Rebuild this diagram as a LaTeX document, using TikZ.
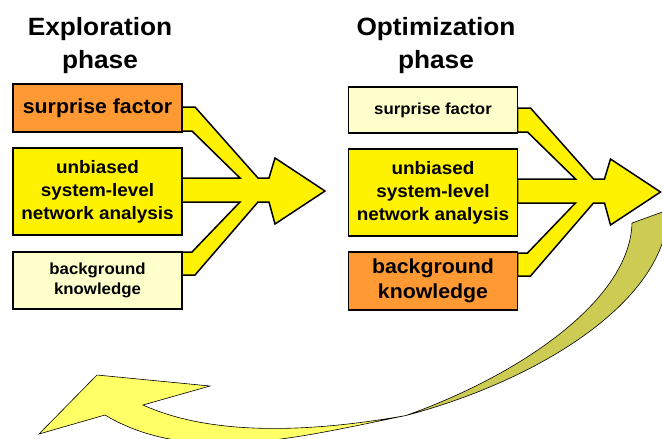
\documentclass[tikz,border=0pt]{standalone}
\usepackage{fontspec}
\newfontfamily\labelfont[FakeStretch=1.05]{Liberation Sans}
\usepackage{tikz}
\definecolor{boxorange}{RGB}{255,153,51}
\definecolor{paleyellow}{RGB}{255,255,204}
\definecolor{ribbonolive}{RGB}{204,204,85}
\definecolor{ribbonyellow}{RGB}{255,255,102}

\begin{document}
\begin{tikzpicture}[x=1pt,y=-1pt,
	box/.style={draw=black,line width=1.8pt,minimum width=169pt,inner sep=0pt,align=center},
	bigtext/.style={font=\labelfont\bfseries\fontsize{20.3}{25}\selectfont},
	midtext/.style={font=\labelfont\bfseries\fontsize{18}{23}\selectfont},
	smalltext/.style={font=\labelfont\bfseries\fontsize{16}{20.5}\selectfont},
	headtext/.style={inner sep=0pt,align=center,font=\labelfont\bfseries\fontsize{25}{33}\selectfont},
	mergearrow/.style={fill=yellow,draw=black,line width=1.5pt,line join=miter},
	ribbon/.style={draw=black,line width=0.6pt}]
	\useasboundingbox (0,0) rectangle (662,439);
	\clip (0,0) rectangle (662,439);
	% yellow merging arrows
	\foreach \x/\d in {182/0, 517.5/1} {
		\draw [mergearrow] (\x,107+\d) -- (\x+13,107+\d) -- (\x+76,178+\d) -- (\x+87,178+\d)
			-- (\x+93,158+\d) -- (\x+143,191+\d) -- (\x+93,224+\d) -- (\x+87,202+\d) -- (\x+76,202+\d)
			-- (\x+13,275+\d) -- (\x,275+\d) -- (\x,252+\d) -- (\x+10,252+\d) -- (\x+58,202+\d)
			-- (\x,202+\d) -- (\x,178+\d) -- (\x+58,178+\d) -- (\x+10,131+\d) -- (\x,131+\d) -- cycle;
	}
	% headings
	\node [headtext] (ehead) at (100,46) {Exploration\\phase};
	\node [headtext] (ohead) at (436,46) {Optimization\\phase};
	% boxes
	\node [box,bigtext,fill=boxorange,minimum height=48pt] (es) at (97.5,108) {surprise factor};
	\node [box,midtext,fill=yellow,minimum height=87pt] (eu) at (97.5,191.5) {unbiased\\system-level\\network analysis};
	\node [box,smalltext,fill=paleyellow,minimum height=57pt] (eb) at (97.5,280.5) {background\\knowledge};
	\node [box,smalltext,fill=paleyellow,minimum height=46pt] (os) at (433,110) {surprise factor};
	\node [box,midtext,fill=yellow,minimum height=87pt] (ou) at (433,192.5) {unbiased\\system-level\\network analysis};
	\node [box,bigtext,fill=boxorange,minimum height=58pt] (ob) at (433,281) {background\\knowledge};
	% twisted return arrow
	\draw [ribbon,fill=ribbonolive] (632,223) .. controls (630,300) and (520,375) .. (406,415.5)
		.. controls (540,380) and (668,300) .. (668,210) -- cycle;
	\draw [ribbon,fill=ribbonyellow] (406,415.5) .. controls (330,429) and (220,440) .. (143,405)
		-- (210,386) -- (97,375) -- (39,434) -- (105,415)
		.. controls (190,466) and (300,437) .. (406,415.5) -- cycle;
\end{tikzpicture}
\end{document}
